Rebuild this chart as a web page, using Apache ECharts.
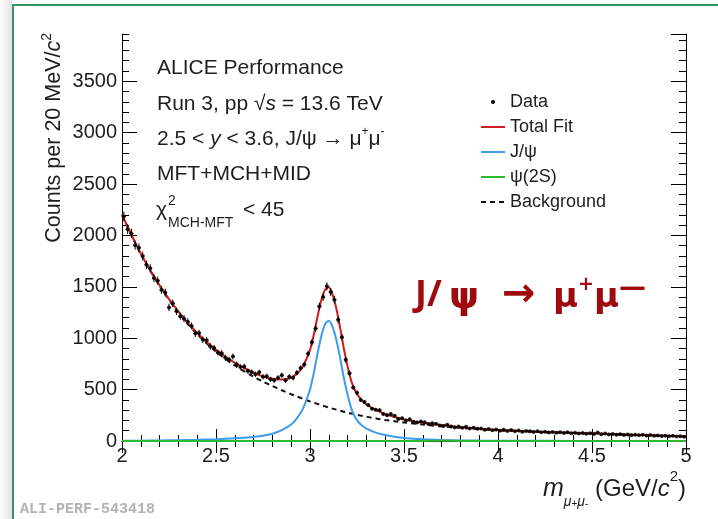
<!DOCTYPE html>
<html>
<head>
<meta charset="utf-8">
<script src="https://cdn.jsdelivr.net/npm/echarts@6/dist/echarts.min.js"></script>
<style>
html, body { margin: 0; padding: 0; background: #fff; }
#chart { width: 718px; height: 519px; }
</style>
</head>
<body>
<div id="chart"></div>
<script>
var myChart = echarts.init(document.getElementById('chart'));

// histogram: 20 MeV bins from 2 to 5 GeV/c2
var binLow = 2.0;
var binWidth = 0.02;
var dataCounts = [
    2185, 2060, 2020, 1905, 1880,
    1800, 1715, 1680, 1585, 1560,
    1470, 1445, 1300, 1340, 1262,
    1215, 1190, 1160, 1120, 1045,
    1050, 985, 980, 920, 905,
    860, 855, 810, 790, 822,
    745, 720, 725, 680, 670,
    650, 668, 625, 630, 600,
    590, 615, 640, 590, 625,
    615, 665, 710, 745, 850,
    960, 1095, 1310, 1400, 1505,
    1450, 1375, 1180, 1010, 790,
    660, 520, 470, 400, 380,
    350, 315, 305, 300, 262,
    250, 262, 245, 215, 222,
    200, 212, 188, 180, 190,
    182, 165, 172, 168, 150,
    145, 158, 140, 132, 140,
    128, 138, 122, 130, 118,
    122, 110, 116, 104, 112,
    100, 110, 98, 106, 95, 102, 90, 98, 96, 88,
    95, 85, 90, 82, 88, 80, 86, 78, 84, 76,
    80, 72, 78, 70, 76, 68, 82, 66, 72, 64,
    68, 62, 66, 58, 64, 56, 62, 55, 60, 53,
    58, 50, 54, 48, 52, 46, 50, 44, 47, 42
];

// fit curves
var fitMass = [2.0, 2.1, 2.2, 2.3, 2.4, 2.5, 2.6, 2.7, 2.75, 2.8, 2.85, 2.9, 2.93, 2.96, 2.98,
    3.0, 3.02, 3.04, 3.06, 3.08, 3.1, 3.12, 3.14, 3.16, 3.18, 3.2, 3.22, 3.24, 3.26, 3.28,
    3.3, 3.35, 3.4, 3.45, 3.5, 3.6, 3.7, 3.8, 3.9, 4.0, 4.2, 4.4, 4.6, 4.8, 5.0];
var fitBkg = [2200, 1820, 1510, 1250, 1040, 870, 735, 625, 578, 535, 494, 455, 434, 413, 399,
    385, 373, 361, 349, 337, 325, 315, 305, 295, 285, 275, 267, 259, 251, 243,
    235, 220, 205, 192, 180, 160, 143, 128, 115, 104, 89, 77, 66, 55, 44];
var fitJpsi = [2, 3, 5, 8, 11, 17, 26, 40, 50, 70, 105, 160, 220, 305, 395,
    500, 660, 850, 1020, 1135, 1170, 1110, 985, 810, 615, 450, 315, 232, 180, 145,
    120, 82, 58, 42, 30, 17, 10, 6, 4, 3, 2, 1, 1, 0, 0];
var fitPsi2S = [0, 0, 0, 0, 0, 0, 0, 0, 0, 0, 0, 0, 0, 0, 0,
    0, 0, 0, 0, 0, 0, 0, 0, 0, 0, 0, 0, 0, 0, 0,
    0, 0, 0, 0, 0, 1, 3, 1, 0, 0, 0, 0, 0, 0, 0];
var fitTotal = [2202, 1823, 1515, 1258, 1051, 887, 761, 665, 628, 605, 599, 615, 654, 718, 794,
    885, 1033, 1211, 1369, 1472, 1495, 1425, 1290, 1105, 900, 725, 582, 491, 431, 388,
    355, 302, 263, 234, 210, 178, 156, 135, 119, 107, 91, 78, 67, 55, 44];

var legendNames = ['Data', 'Total Fit', 'J/\u03c8', '\u03c8(2S)', 'Background'];

var font = 'Liberation Sans';
var ink = '#1e1e1e';
var accent = '#9e0b0f';

function curve(values) {
    return fitMass.map(function (m, i) { return [m, values[i]]; });
}

var points = dataCounts.map(function (c, i) {
    return [+(binLow + binWidth * (i + 0.5)).toFixed(3), c];
});

function tickAxis(pos, interval, len, withLabels, minor) {
    var isX = pos === 'top' || pos === 'bottom';
    return {
        type: 'value',
        position: pos,
        min: isX ? 2 : 0,
        max: isX ? 5 : 3960,
        interval: interval,
        axisLine: {show: withLabels !== null, lineStyle: {color: '#000', width: 1}},
        axisTick: {show: true, inside: true, length: len, lineStyle: {color: '#000', width: 1}},
        minorTick: {show: !!minor, splitNumber: 5, length: 6, lineStyle: {color: '#000', width: 1}},
        splitLine: {show: false},
        axisLabel: {
            show: !!withLabels,
            fontSize: 20,
            fontFamily: font,
            color: ink,
            margin: 5,
            showMaxLabel: pos !== 'left',
            formatter: function (v) { return String(v); }
        }
    };
}

var xTop = tickAxis('top', 0.5, 12, false, true);
var xBottom = tickAxis('bottom', 0.5, 12, true, true);
var yLeft = tickAxis('left', 500, 15, true, false);
var yLeftMinor = tickAxis('left', 100, 7, null, false);
var yRight = tickAxis('right', 500, 15, false, false);
var yRightMinor = tickAxis('right', 100, 7, null, false);

function label(x, y, text, size, extra) {
    var style = {text: text, fontSize: size, fontFamily: font, fill: ink, verticalAlign: 'middle'};
    for (var k in extra) { style[k] = extra[k]; }
    return {type: 'text', x: x, y: y, z: 50, style: style};
}

function it(size) { return {fontStyle: 'italic', fontSize: size, fontFamily: font}; }
function sup(size, lh) { return {fontSize: size, fontFamily: font, verticalAlign: 'top', lineHeight: lh}; }

var graphics = [
    {type: 'rect', shape: {x: 0, y: 0, width: 12, height: 519}, z: 90,
        style: {fill: new echarts.graphic.LinearGradient(0, 0, 1, 0, [
            {offset: 0, color: '#ffffff'}, {offset: 1, color: '#e2e2e2'}])}},
    {type: 'rect', shape: {x: 13, y: 5, width: 760, height: 560}, z: 100,
        style: {fill: 'none', stroke: '#35995f', lineWidth: 2}},
    label(157, 68, 'ALICE Performance', 21),
    label(157, 104, 'Run 3, pp \u221a{i|s} = 13.6 TeV', 21, {rich: {i: it(21)}}),
    label(157, 139, '2.5 < {i|y} < 3.6, J/\u03c8 \u2192 \u03bc{s|+}\u03bc{s|-}', 21, {
        rich: {i: it(21), s: sup(12, 26)}}),
    label(157, 174, 'MFT+MCH+MID', 21),
    label(156, 210, '\u03c7', 21),
    label(168, 201, '2', 14),
    label(168, 223, 'MCH-MFT', 14),
    label(243, 210, '< 45', 21),
    // big annotation
    label(415, 296, 'J/', 36, {fontWeight: 'bold', fontFamily: 'Open Sans', fill: accent}),
    label(449, 298, '\u03c8', 38, {fontWeight: 'bold', fontFamily: 'DejaVu Sans', fill: accent}),
    label(502, 296, '\u2192', 40, {fontWeight: 'bold', fontFamily: 'DejaVu Sans', fill: accent}),
    label(553, 298, '\u03bc{s|+}\u03bc{d|\u2014}', 34, {fontWeight: 'bold', fontFamily: 'DejaVu Sans', fill: accent,
        rich: {s: {fontSize: 19, fontWeight: 'bold', fontFamily: 'DejaVu Sans', verticalAlign: 'top', lineHeight: 38},
            d: {fontSize: 27, fontWeight: 'bold', fontFamily: 'DejaVu Sans', verticalAlign: 'top', lineHeight: 45}}}),
    // axis titles
    {type: 'text', x: 54, y: 33, rotation: Math.PI / 2, z: 50, style: {
        text: 'Counts per 20 MeV/{i|c}{s|2}', fontSize: 21.5, fontFamily: font, fill: ink, align: 'right', verticalAlign: 'middle',
        rich: {i: it(21.5), s: sup(14, 28)}}},
    label(686, 489, '{m|m}{sub|\u03bc}{p|+}{sub|\u03bc}{p|-} (GeV/{i|c}{s|2})', 24, {align: 'right',
        rich: {m: it(25), i: it(24),
            sub: {fontStyle: 'italic', fontSize: 14, fontFamily: font, verticalAlign: 'bottom', lineHeight: 34},
            p: {fontSize: 10, fontFamily: font, verticalAlign: 'bottom', lineHeight: 40},
            s: sup(15, 32)}}),
    label(20, 509, 'ALI-PERF-543418', 15, {fontWeight: 'bold', fontFamily: 'Liberation Mono', fill: '#b3b3b3'})
];

myChart.setOption({
    backgroundColor: '#fff',
    animation: false,
    grid: {left: 122, right: 32, top: 34, bottom: 78, containLabel: false},
    legend: {
        orient: 'vertical',
        left: 480,
        top: 93,
        padding: 0,
        itemWidth: 24,
        itemHeight: 4,
        itemGap: 7,
        selectedMode: false,
        itemStyle: {opacity: 0},
        textStyle: {fontSize: 18, fontFamily: font, color: ink, lineHeight: 18},
        data: [
            {name: legendNames[0], icon: 'circle', itemStyle: {opacity: 1, color: '#000'}},
            legendNames[1], legendNames[2], legendNames[3], legendNames[4]
        ]
    },
    xAxis: [xBottom, xTop],
    yAxis: [yLeft, yLeftMinor, yRight, yRightMinor],
    graphic: graphics,
    series: [
        {
            name: legendNames[4], type: 'line', data: curve(fitBkg), smooth: 0.3,
            symbol: 'none', z: 3,
            itemStyle: {color: '#111'},
            lineStyle: {color: '#111', width: 2, type: [5, 4]}
        },
        {
            name: legendNames[2], type: 'line', data: curve(fitJpsi), smooth: 0.3,
            symbol: 'none', z: 3, clip: false,
            itemStyle: {color: '#3d9bf0'},
            lineStyle: {color: '#3d9bf0', width: 2}
        },
        {
            name: legendNames[3], type: 'line', data: curve(fitPsi2S), smooth: 0.3,
            symbol: 'none', z: 4, clip: false,
            itemStyle: {color: '#2db82d'},
            lineStyle: {color: '#2db82d', width: 2}
        },
        {
            name: legendNames[1], type: 'line', data: curve(fitTotal), smooth: 0.3,
            symbol: 'none', z: 4,
            itemStyle: {color: '#d01c1c'},
            lineStyle: {color: '#d01c1c', width: 2}
        },
        {
            name: 'errors', type: 'custom', data: points, z: 5,
            encode: {x: 0, y: 1},
            renderItem: function (params, api) {
                var x = api.value(0), y = api.value(1), e = Math.sqrt(y);
                var top = api.coord([x, y + e]), bot = api.coord([x, y - e]);
                var l = api.coord([x - binWidth / 2, y]), r = api.coord([x + binWidth / 2, y]);
                return {
                    type: 'group',
                    children: [
                        {type: 'line', shape: {x1: top[0], y1: top[1], x2: bot[0], y2: bot[1]}, style: {stroke: '#000', lineWidth: 1}},
                        {type: 'line', shape: {x1: l[0], y1: l[1], x2: r[0], y2: r[1]}, style: {stroke: '#000', lineWidth: 1}}
                    ]
                };
            }
        },
        {
            name: legendNames[0], type: 'scatter', data: points, z: 6,
            symbol: 'circle', symbolSize: 4,
            itemStyle: {color: '#000'}
        }
    ]
});
</script>
</body>
</html>
